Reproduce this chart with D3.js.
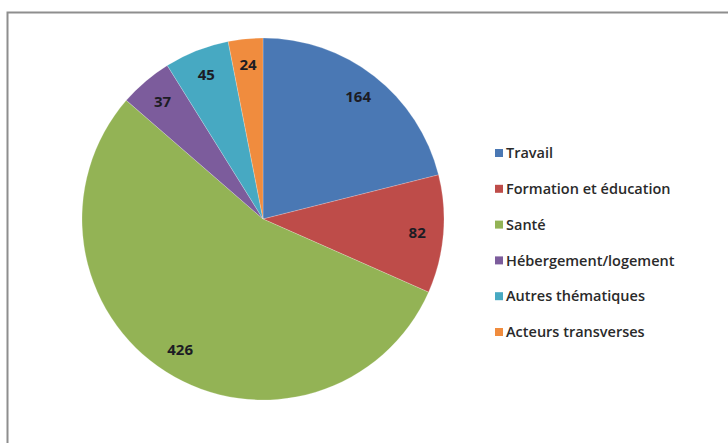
<!DOCTYPE html>
<html>
<head>
<meta charset="utf-8">
<script src="https://cdn.jsdelivr.net/npm/d3@7"></script>
<style>
  body { margin: 0; background: #fff; }
  svg { display: block; }
</style>
</head>
<body>
<svg id="pie-chart"></svg>
<script>
/* Data */
const categories = ['Travail', 'Formation et éducation', 'Santé', 'Hébergement/logement', 'Autres thématiques', 'Acteurs transverses'];
const values = [164, 82, 426, 37, 45, 24];
const colors = ['#4a78b4', '#be4c49', '#93b355', '#7c5c9c', '#47a9c2', '#f08c3e'];

const rows = categories.map((c, i) => ({ name: c, value: values[i] }));

/* Chart dimensions */
const width = 728, height = 443;
const cx = 263, cy = 219, radius = 181;

const svg = d3.select("#pie-chart")
    .attr("width", width)
    .attr("height", height);

/* Chart frame */
svg.append("rect")
    .attr("x", 7.5)
    .attr("y", 12.5)
    .attr("width", width + 20)
    .attr("height", height + 20)
    .attr("fill", "#fff")
    .attr("stroke", "#8e8e8e")
    .attr("stroke-width", 2);

const color = d3.scaleOrdinal().domain(categories).range(colors);

const pie = d3.pie()
    .value(d => d.value)
    .sort(null);

const arc = d3.arc().innerRadius(0).outerRadius(radius);
const labelArc = d3.arc().innerRadius(radius * 0.855).outerRadius(radius * 0.855);

const g = svg.append("g")
    .attr("transform", `translate(${cx},${cy})`);

const arcs = pie(rows);

/* Slices */
g.selectAll(".slice")
    .data(arcs)
    .join("path")
      .attr("class", "slice")
      .attr("d", arc)
      .attr("fill", d => color(d.data.name))
      .attr("stroke", "rgba(255,255,255,0.35)")
      .attr("stroke-width", 0.6);

/* Value labels */
g.selectAll(".label")
    .data(arcs)
    .join("text")
      .attr("class", "label")
      .attr("transform", d => `translate(${labelArc.centroid(d)})`)
      .attr("text-anchor", "middle")
      .attr("dy", "0.36em")
      .style("font-family", "'Open Sans', sans-serif")
      .style("font-weight", "700")
      .style("font-size", "15px")
      .style("fill", "#1c1c24")
      .text(d => d.data.value);

/* Legend */
const legend = svg.append("g")
    .attr("transform", "translate(495,153)");

const item = legend.selectAll(".item")
    .data(categories)
    .join("g")
      .attr("class", "item")
      .attr("transform", (d, i) => `translate(0, ${i * 35.8})`);

item.append("rect")
    .attr("x", 0)
    .attr("y", -4)
    .attr("width", 8)
    .attr("height", 8)
    .attr("fill", d => color(d));

item.append("text")
    .attr("x", 11)
    .attr("dy", "0.36em")
    .style("font-family", "'Open Sans', sans-serif")
    .style("font-weight", "600")
    .style("font-size", "14.5px")
    .style("fill", "#2a2a2a")
    .text(d => d);
</script>
</body>
</html>
